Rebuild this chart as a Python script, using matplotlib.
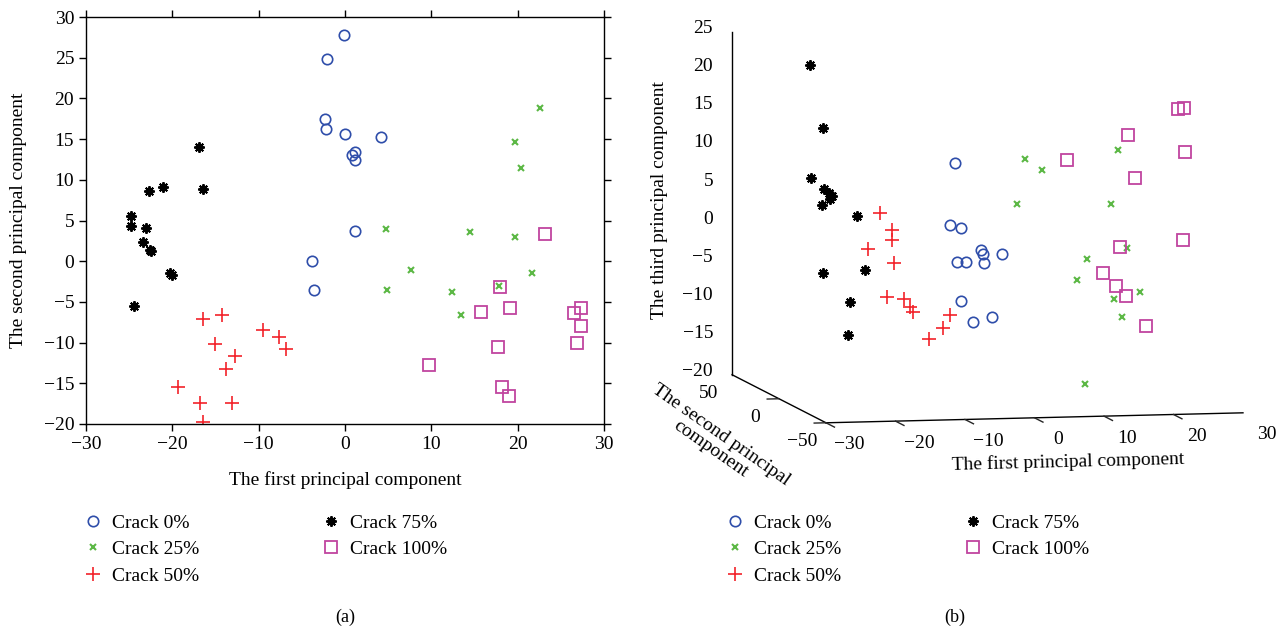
import matplotlib

matplotlib.use('Agg')
import matplotlib.pyplot as plt
from matplotlib.lines import Line2D
from matplotlib.ticker import NullLocator
from mpl_toolkits.mplot3d import proj3d

# principal component scores, one set per crack level
crack0_pc1 = [-0.08, -2.05, -2.28, -2.16, 0.04, 4.17, 1.16, 0.85, 1.16, 1.16, -3.79, -3.56]
crack0_pc2 = [27.8, 24.8, 17.5, 16.3, 15.6, 15.3, 13.4, 13.0, 12.4, 3.77, 0.04, -3.56]
crack0_pc3 = [0.0, 0.7, 9.3, -3.7, -11.5, -2.7, -2.5, -1.9, -3.6, -10.2, -7.7, -2.4]

crack25_pc1 = [22.6, 19.7, 20.4, 4.7, 14.5, 19.7, 7.7, 21.7, 4.9, 12.4, 17.8, 13.4]
crack25_pc2 = [18.8, 14.7, 11.5, 3.9, 3.6, 3.0, -1.1, -1.4, -3.5, -3.8, -3.1, -6.6]
crack25_pc3 = [-2.5, 3.6, 10.9, 4.6, -19.2, -10.5, 9.3, -7.0, 11.0, -5.1, -7.7, -2.2]

crack50_pc1 = [-14.3, -16.5, -9.5, -7.6, -6.8, -15.1, -12.7, -13.8, -19.3, -16.8, -13.1, -16.4]
crack50_pc2 = [-6.6, -7.1, -8.4, -9.3, -10.8, -10.2, -11.6, -13.2, -15.4, -17.4, -17.4, -19.7]
crack50_pc3 = [-2.1, 4.6, -12.1, -10.6, -8.8, 1.2, -7.6, -6.4, 0.4, -5.8, -7.9, 3.1]

crack75_pc1 = [-16.9, -21.1, -22.7, -16.4, -24.8, -24.8, -23.0, -23.4, -22.6, -20.3, -20.0, -24.4, -22.5]
crack75_pc2 = [14.0, 9.1, 8.6, 8.9, 5.5, 4.3, 4.1, 2.3, 1.4, -1.5, -1.7, -5.5, 1.2]
crack75_pc3 = [2.9, 5.9, 4.8, -3.9, 23.4, 8.6, 7.2, 15.3, 6.8, -11.7, -7.4, -3.2, 6.0]

crack100_pc1 = [23.2, 18.0, 15.8, 19.1, 26.5, 27.3, 27.3, 26.9, 17.7, 9.7, 18.2, 19.0]
crack100_pc2 = [3.4, -3.2, -6.3, -5.8, -6.4, -5.7, -7.9, -10.0, -10.5, -12.7, -15.4, -16.6]
crack100_pc3 = [-11.8, -6.0, -4.1, -7.2, 17.2, 0.0, 11.7, 17.6, -0.4, 11.3, 14.6, 9.0]

labels = ['Crack 0%', 'Crack 25%', 'Crack 50%', 'Crack 75%', 'Crack 100%']
x_ticks_3d = [-30, -20, -10, 0, 10, 20, 30]
y_ticks_3d = [-50, 0, 50]
z_ticks_3d = [-20, -15, -10, -5, 0, 5, 10, 15, 20, 25]

W, H = 1279, 631
TICK_COLOR = (0.15, 0.15, 0.15)


def fig_box(left, top, right, bottom):
    return [left / W, 1 - bottom / H, (right - left) / W, (bottom - top) / H]


def tick_text(value):
    return f'{value}'.replace('-', '\u2212')


def label_3d(ax3, xyz, text, **kwargs):
    # project the 3-D anchor once and place an ordinary 2-D text there
    px, py, _ = proj3d.proj_transform(*xyz, ax3.get_proj())
    ax3.text2D(px, py, text, transform=ax3.transData, fontsize=14, **kwargs)


def main() -> int:
    plt.rcParams['font.family'] = ['Liberation Serif', 'DejaVu Serif']
    plt.rcParams['font.size'] = 14
    plt.rcParams['axes.linewidth'] = 1.0

    series = [
        (crack0_pc1, crack0_pc2, crack0_pc3),
        (crack25_pc1, crack25_pc2, crack25_pc3),
        (crack50_pc1, crack50_pc2, crack50_pc3),
        (crack75_pc1, crack75_pc2, crack75_pc3),
        (crack100_pc1, crack100_pc2, crack100_pc3),
    ]
    styles = [
        dict(marker='o', color='#2f4eaa', markersize=7.5, markeredgewidth=1.2, markerfacecolor='none'),
        dict(marker='x', color='#5cb845', markersize=4.5, markeredgewidth=1.5),
        dict(marker='+', color='#f2222a', markersize=10, markeredgewidth=1.2),
        dict(marker=(8, 2, 0), color='black', markersize=7.5, markeredgewidth=1.4),
        dict(marker='s', color='#c0449f', markersize=8, markeredgewidth=1.3, markerfacecolor='none'),
    ]

    fig = plt.figure(figsize=(W / 100, H / 100), dpi=100)

    # (a) first vs second component
    axis = fig.add_axes(fig_box(86, 17, 604, 424))
    for (pc1, pc2, _), style in zip(series, styles):
        axis.plot(pc1, pc2, linestyle='none', **style)
    axis.set_xlim(-30, 30)
    axis.set_ylim(-20, 30)
    axis.set_xticks(range(-30, 31, 10))
    axis.set_yticks(range(-20, 31, 5))
    axis.tick_params(direction='out', top=True, right=True, length=5, width=1, labelsize=14)
    fig.text(345 / W, 1 - 480 / H, 'The first principal component', ha='center', va='center', fontsize=14)
    fig.text(19 / W, 1 - 220 / H, 'The second principal component', ha='center', va='center',
             rotation=90, fontsize=14)

    # (b) 3-D view of the first three components, orthographic like MATLAB
    ax3 = fig.add_axes([751.3 / W, (H - 458.7) / H, 460 / W, 460 / H], projection='3d')
    ax3.set_proj_type('ortho')
    ax3.view_init(elev=6.35, azim=-102.2)
    ax3.set_box_aspect((427, 445, 345), zoom=1.49)
    for (pc1, pc2, pc3), style in zip(series, styles):
        ax3.plot(pc1, pc2, pc3, linestyle='none', **style)
    ax3.set_xlim(-30, 30)
    ax3.set_ylim(-50, 50)
    ax3.set_zlim(-20, 25)
    ax3.grid(False)
    ax3.patch.set_alpha(0)
    for ax_ in (ax3.xaxis, ax3.yaxis, ax3.zaxis):
        ax_.set_major_locator(NullLocator())
        ax_.set_pane_color((1, 1, 1, 0))
        ax_.pane.set_edgecolor((1, 1, 1, 0))
        ax_._axinfo['axisline']['color'] = (0.25, 0.25, 0.25, 1)
        ax_._axinfo['axisline']['linewidth'] = 1.2

    # MATLAB draws ticks and labels along fixed directions, so do it in data space
    for value in x_ticks_3d:
        ax3.plot([value, value], [-50, -59], [-20, -20], color=TICK_COLOR, lw=1)
        label_3d(ax3, (value, -75, -21.3), tick_text(value), ha='center', va='center')
    for value in y_ticks_3d:
        ax3.plot([-30, -31.7], [value, value], [-20, -20], color=TICK_COLOR, lw=1)
        label_3d(ax3, (-33.45, value, -22.4), tick_text(value), ha='center', va='center')
    for value in z_ticks_3d:
        ax3.plot([-30, -30], [50, 59], [value, value], color=TICK_COLOR, lw=1)
        label_3d(ax3, (-32.73, 50, value + 0.5), tick_text(value), ha='right', va='center')

    fig.text(660 / W, 1 - 200 / H, 'The third principal component', ha='center', va='center',
             rotation=90, fontsize=14)
    fig.text(1068 / W, 1 - 462 / H, 'The first principal component', ha='center', va='center',
             rotation=1.5, fontsize=14)
    fig.text(716 / W, 1 - 442 / H, 'The second principal\ncomponent', ha='center', va='center',
             rotation=-35, rotation_mode='anchor', multialignment='center', fontsize=14,
             linespacing=1.0)

    handles = [Line2D([], [], linestyle='none', **style) for style in styles]
    for left_px in (83.3, 725.3):
        fig.legend(handles, labels, loc='upper left', bbox_to_anchor=(left_px / W, 1 - 514 / H),
                   ncol=2, frameon=False, fontsize=14, handlelength=1.0, handletextpad=0.5,
                   columnspacing=6.25, labelspacing=0.46, borderpad=0, borderaxespad=0)

    fig.text(345 / W, 1 - 617 / H, '(a)', ha='center', va='center', fontsize=13)
    fig.text(955 / W, 1 - 617 / H, '(b)', ha='center', va='center', fontsize=13)

    fig.savefig('out.png', dpi=100)
    plt.close(fig)
    return 0


if __name__ == '__main__':
    raise SystemExit(main())
